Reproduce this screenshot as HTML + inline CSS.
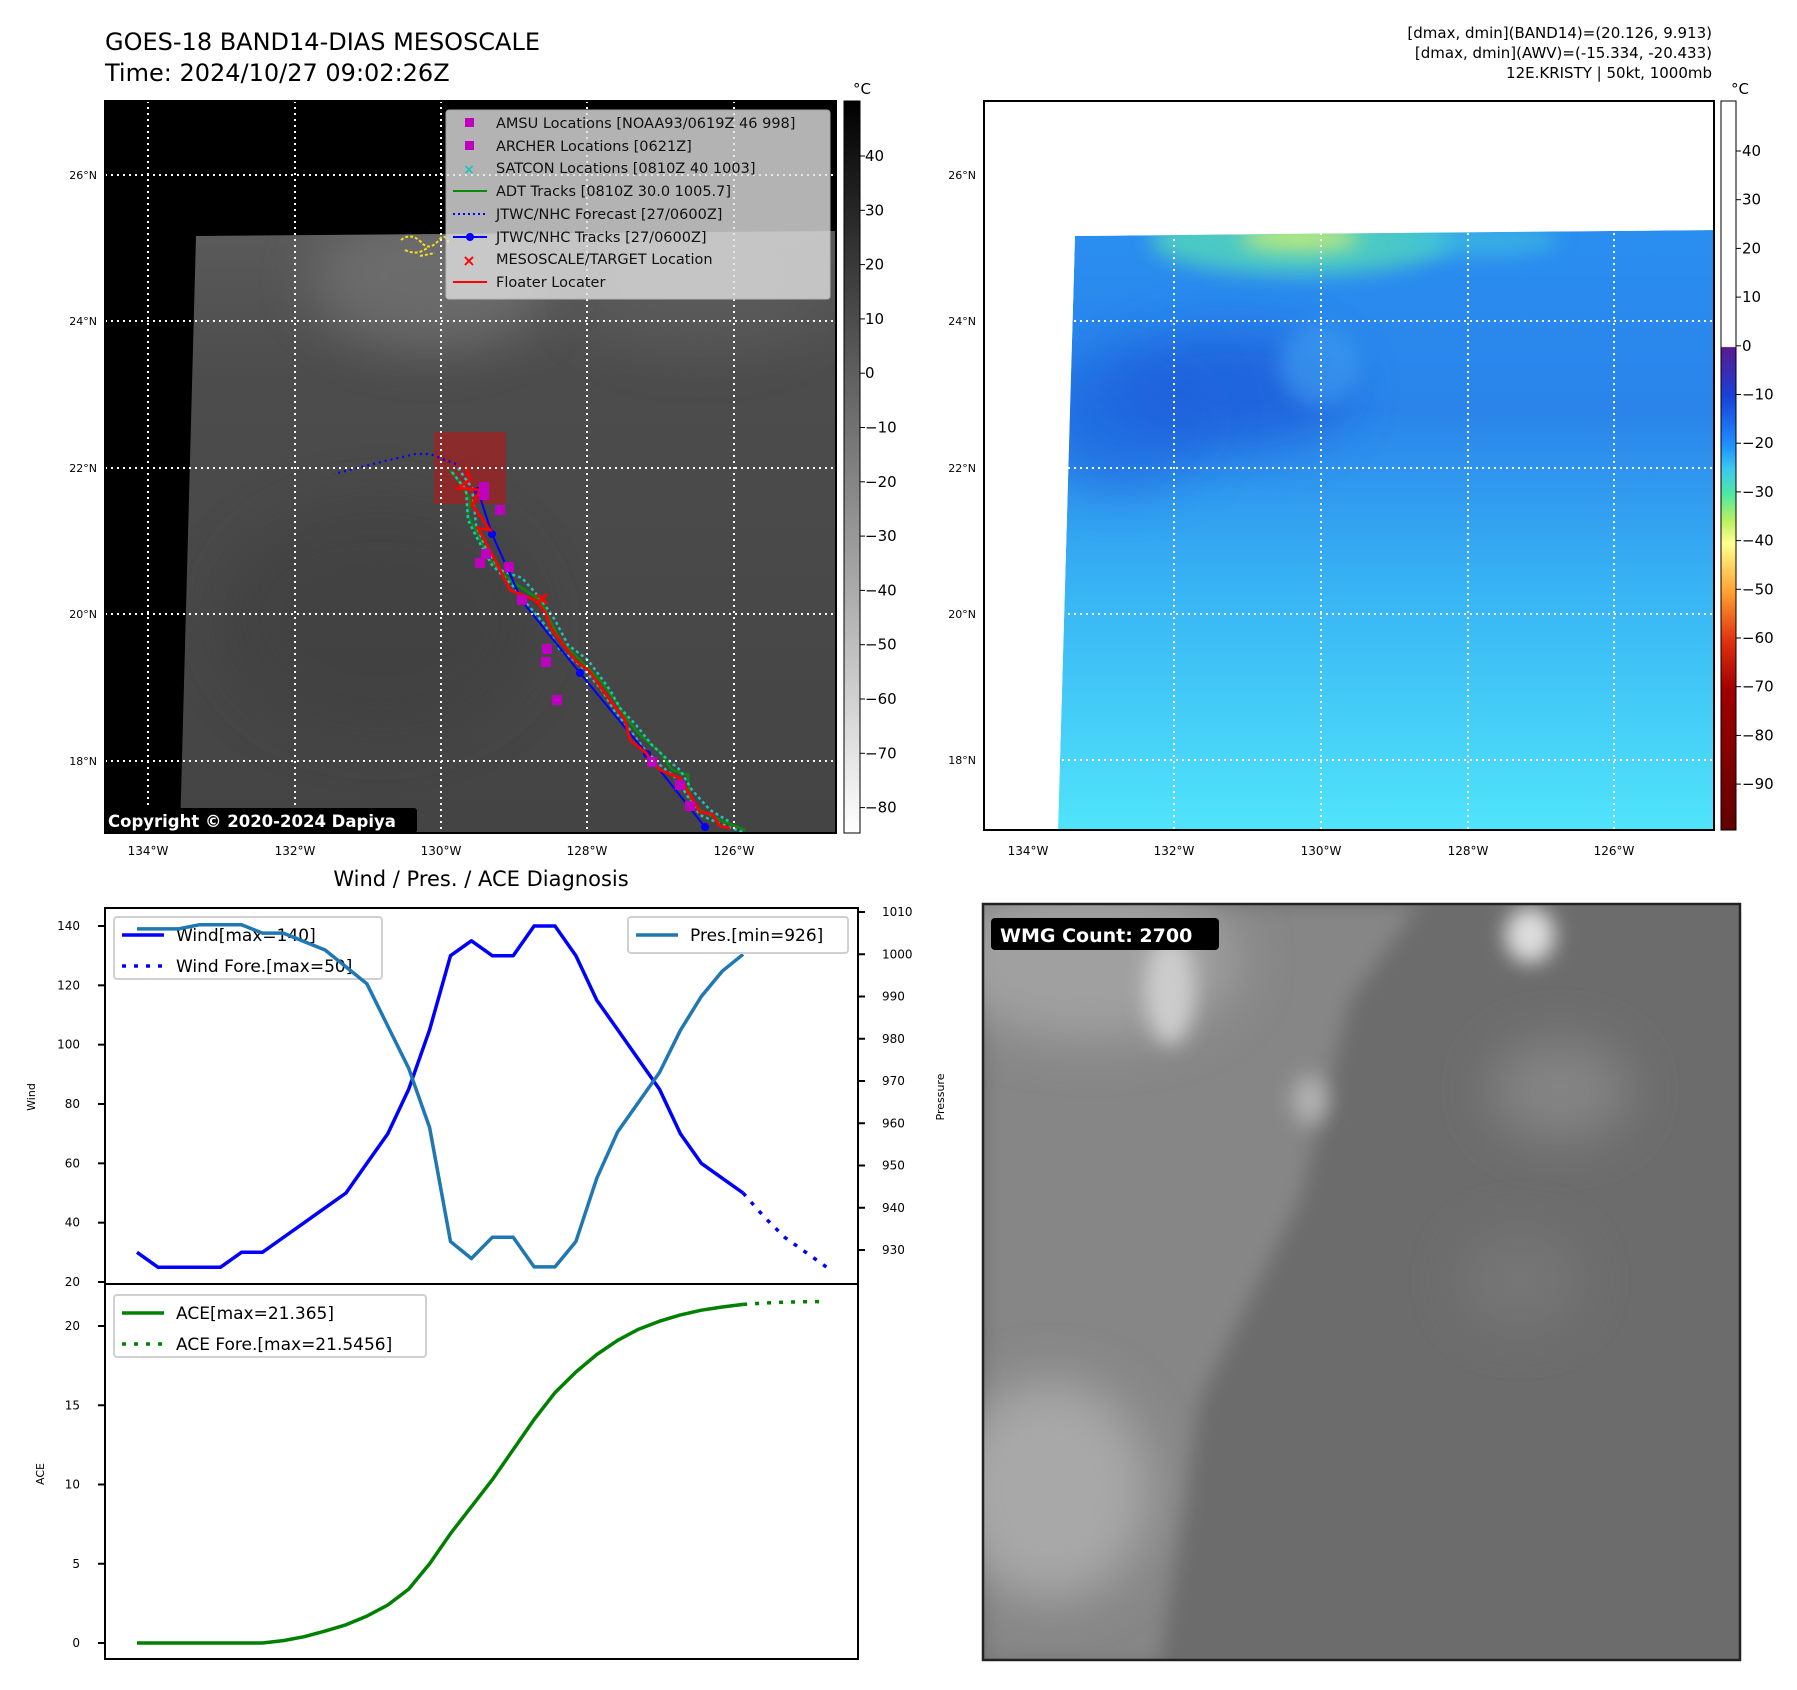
<!DOCTYPE html>
<html><head><meta charset="utf-8"><style>
html,body{margin:0;padding:0;background:#fff}
svg{display:block;font-family:"DejaVu Sans","Liberation Sans",sans-serif}
</style></head><body>
<svg id="fig" width="1797" height="1690" viewBox="0 0 1797 1690" xmlns="http://www.w3.org/2000/svg">
<defs>
<linearGradient id="gcb" x1="0" y1="0" x2="0" y2="1"><stop offset="0" stop-color="#000"/><stop offset="1" stop-color="#fff"/></linearGradient>
<linearGradient id="rcb" x1="0" y1="0" x2="0" y2="1">
<stop offset="0" stop-color="#fff"/><stop offset="0.337" stop-color="#fff"/>
<stop offset="0.338" stop-color="#5a1a90"/><stop offset="0.405" stop-color="#1840d8"/>
<stop offset="0.472" stop-color="#1e90ff"/><stop offset="0.505" stop-color="#3cc8f0"/>
<stop offset="0.54" stop-color="#50e8a0"/><stop offset="0.575" stop-color="#b8f060"/>
<stop offset="0.607" stop-color="#ffff90"/><stop offset="0.674" stop-color="#ffa030"/>
<stop offset="0.741" stop-color="#e03010"/><stop offset="0.808" stop-color="#a00000"/>
<stop offset="1" stop-color="#600000"/></linearGradient>
<linearGradient id="lmap" x1="0" y1="0" x2="0" y2="1"><stop offset="0" stop-color="#5a5a5a"/><stop offset="0.25" stop-color="#4c4c4c"/><stop offset="1" stop-color="#444"/></linearGradient>
<linearGradient id="rmap" x1="0" y1="0" x2="0" y2="1"><stop offset="0" stop-color="#2a8ef0"/><stop offset="0.3" stop-color="#2a84ea"/><stop offset="0.6" stop-color="#38b4f4"/><stop offset="1" stop-color="#50e4fa"/></linearGradient>
<filter id="bl" x="-100%" y="-100%" width="300%" height="300%"><feGaussianBlur stdDeviation="25"/></filter>
<filter id="bl2" x="-100%" y="-100%" width="300%" height="300%"><feGaussianBlur stdDeviation="10"/></filter>
<clipPath id="lclip"><rect x="105" y="101" width="731" height="732"/></clipPath>
<clipPath id="rclip"><polygon points="1075,236 1714,230 1714,830 1058,830"/></clipPath>
<clipPath id="lgray"><polygon points="196,236 836,231 836,833 180,833"/></clipPath>
<clipPath id="wclip"><rect x="983" y="904" width="757" height="756"/></clipPath>
</defs>

<text x="105" y="50" font-size="24">GOES-18 BAND14-DIAS MESOSCALE</text>
<text x="105" y="81" font-size="24">Time: 2024/10/27 09:02:26Z</text>
<g font-size="15" text-anchor="end">
<text x="1712" y="38">[dmax, dmin](BAND14)=(20.126, 9.913)</text>
<text x="1712" y="58">[dmax, dmin](AWV)=(-15.334, -20.433)</text>
<text x="1712" y="78">12E.KRISTY | 50kt, 1000mb</text>
</g>

<!-- LEFT MAP -->
<g clip-path="url(#lclip)">
<rect x="105" y="101" width="731" height="732" fill="#000"/>
<polygon points="196,236 836,231 836,833 180,833" fill="url(#lmap)"/>
<g clip-path="url(#lgray)">
<ellipse cx="430" cy="280" rx="120" ry="70" fill="#7a7a7a" opacity="0.6" filter="url(#bl)"/>
<ellipse cx="700" cy="300" rx="120" ry="50" fill="#606060" opacity="0.5" filter="url(#bl)"/>
<ellipse cx="380" cy="620" rx="160" ry="120" fill="#3c3c3c" opacity="0.5" filter="url(#bl)"/>
</g>
<path d="M401,240 q10,-8 20,2 q8,10 18,-2 q6,-8 10,4 M405,250 q12,6 22,-2 M420,256 l15,-3" stroke="#f0e020" stroke-width="2" fill="none" stroke-dasharray="3,2"/>
<rect x="434" y="432" width="72" height="72" fill="#a02020" opacity="0.75"/>
<polyline points="456,464 430,454 415,454 381,462 334,474" fill="none" stroke="#0000ff" stroke-width="2.2" stroke-dasharray="2,4"/>
<polyline points="450,470 462,485 470,500 468,515 478,535 490,560 510,580 540,600 550,620 560,640 580,660 600,680 615,700 628,720 640,735 660,752 672,770 688,775 690,800 700,810 720,820 745,830" fill="none" stroke="#0a8a0a" stroke-width="2.5"/>
<g stroke="#20c0c0" stroke-width="2.5" stroke-dasharray="3,3" fill="none">
<polyline points="452,472 466,490 468,520 478,540 492,565 512,585 528,605 545,625 560,650 580,665 602,690 615,712 630,730 645,750 660,765 676,778 690,800 700,815 716,822 745,833"/>
<polyline points="458,468 472,488 476,525 486,548 500,570 522,578 540,598 555,620 568,645 588,660 610,690 620,708 636,725 652,745 668,760 680,770 692,790 710,810 730,822"/>
</g>
<polyline points="478,491 492,534 522,601 580,673 647,754 705,827" fill="none" stroke="#0000ff" stroke-width="2"/>
<g fill="#0000ff"><circle cx="478" cy="491" r="4"/><circle cx="492" cy="534" r="4"/><circle cx="522" cy="601" r="4"/><circle cx="580" cy="673" r="4"/><circle cx="647" cy="754" r="4"/><circle cx="705" cy="827" r="4"/></g>
<polyline points="466,466 470,480 458,488 480,490 472,505 490,530 478,528 495,560 510,590 535,600 545,612 552,630 575,660 590,672 610,700 625,720 630,740 645,752 660,770 680,778 700,812 712,814 720,826 730,828" fill="none" stroke="#ff0000" stroke-width="2.8"/>
<g fill="#c000c0">
<rect x="479" y="482" width="10" height="10"/><rect x="479" y="490" width="10" height="10"/><rect x="495" y="505" width="10" height="10"/><rect x="475" y="558" width="10" height="10"/><rect x="481" y="549" width="10" height="10"/><rect x="504" y="562" width="10" height="10"/><rect x="542" y="644" width="10" height="10"/><rect x="541" y="657" width="10" height="10"/><rect x="552" y="695" width="10" height="10"/><rect x="647" y="757" width="10" height="10"/><rect x="675" y="780" width="10" height="10"/><rect x="685" y="801" width="10" height="10"/><rect x="517" y="595" width="10" height="10"/>
</g>
<g stroke="#ff0000" stroke-width="3"><path d="M537,594 l10,10 M547,594 l-10,10"/></g>
<g stroke="#fff" stroke-width="2" stroke-dasharray="2,4">
<line x1="148" y1="101" x2="148" y2="833"/><line x1="295" y1="101" x2="295" y2="833"/><line x1="441" y1="101" x2="441" y2="833"/><line x1="587" y1="101" x2="587" y2="833"/><line x1="734" y1="101" x2="734" y2="833"/>
<line x1="105" y1="175" x2="836" y2="175"/><line x1="105" y1="321" x2="836" y2="321"/><line x1="105" y1="468" x2="836" y2="468"/><line x1="105" y1="614" x2="836" y2="614"/><line x1="105" y1="761" x2="836" y2="761"/>
</g>
<g>
<rect x="446" y="110" width="384" height="189" rx="3" fill="#e0e0e0" opacity="0.8" stroke="#ccc"/>
<g font-size="14.5" fill="#111">
<text x="496" y="128">AMSU Locations [NOAA93/0619Z 46 998]</text>
<text x="496" y="151">ARCHER Locations [0621Z]</text>
<text x="496" y="173">SATCON Locations [0810Z 40 1003]</text>
<text x="496" y="196">ADT Tracks [0810Z 30.0 1005.7]</text>
<text x="496" y="219">JTWC/NHC Forecast [27/0600Z]</text>
<text x="496" y="242">JTWC/NHC Tracks [27/0600Z]</text>
<text x="496" y="264">MESOSCALE/TARGET Location</text>
<text x="496" y="287">Floater Locater</text>
</g>
<rect x="465" y="118" width="9" height="9" fill="#c000c0"/><rect x="465" y="141" width="9" height="9" fill="#c000c0"/>
<text x="469" y="174" font-size="14" fill="#20c0c0" text-anchor="middle" font-weight="bold">×</text>
<line x1="453" y1="191" x2="487" y2="191" stroke="#0a8a0a" stroke-width="2"/>
<line x1="453" y1="214" x2="487" y2="214" stroke="#0000ff" stroke-width="2" stroke-dasharray="2,3"/>
<line x1="453" y1="237" x2="487" y2="237" stroke="#0000ff" stroke-width="2"/><circle cx="470" cy="237" r="4" fill="#0000ff"/>
<text x="469" y="266" font-size="16" fill="#ff0000" text-anchor="middle" font-weight="bold">×</text>
<line x1="453" y1="282" x2="487" y2="282" stroke="#ff0000" stroke-width="2"/>
</g>
<rect x="104" y="808" width="313" height="25" rx="3" fill="#000"/>
<text x="108" y="827" font-size="16.5" font-weight="bold" fill="#fff">Copyright © 2020-2024 Dapiya</text>
</g>
<rect x="105" y="101" width="731" height="732" fill="none" stroke="#000" stroke-width="2"/>
<g font-size="11" text-anchor="end">
<text x="97" y="179">26°N</text><text x="97" y="325">24°N</text><text x="97" y="472">22°N</text><text x="97" y="618">20°N</text><text x="97" y="765">18°N</text>
</g>
<g font-size="12" text-anchor="middle">
<text x="148" y="855">134°W</text><text x="295" y="855">132°W</text><text x="441" y="855">130°W</text><text x="587" y="855">128°W</text><text x="734" y="855">126°W</text>
</g>
<g>
<rect x="844" y="101" width="16" height="732" fill="url(#gcb)" stroke="#000" stroke-width="1"/>
<text x="862" y="94" font-size="15" text-anchor="middle">°C</text>
<g font-size="15" id="lcbt"></g>
</g>

<!-- RIGHT MAP -->
<rect x="984" y="101" width="730" height="729" fill="#fff"/>
<g clip-path="url(#rclip)">
<polygon points="1075,236 1714,230 1714,830 1058,830" fill="url(#rmap)"/>
<ellipse cx="1230" cy="390" rx="120" ry="60" fill="#1a58d8" opacity="0.7" filter="url(#bl)"/>
<ellipse cx="1120" cy="420" rx="90" ry="70" fill="#1c60dc" opacity="0.6" filter="url(#bl)"/>
<ellipse cx="1320" cy="365" rx="40" ry="40" fill="#40a0f0" opacity="0.6" filter="url(#bl2)"/>
<ellipse cx="1300" cy="240" rx="150" ry="35" fill="#50d0c0" opacity="0.9" filter="url(#bl2)"/>
<ellipse cx="1480" cy="240" rx="80" ry="15" fill="#40c0e0" opacity="0.7" filter="url(#bl2)"/>
<ellipse cx="1300" cy="238" rx="60" ry="12" fill="#d0f070" opacity="0.9" filter="url(#bl2)"/>
</g>
<g stroke="#fff" stroke-width="2" stroke-dasharray="2,4">
<line x1="1028" y1="101" x2="1028" y2="830"/><line x1="1174" y1="101" x2="1174" y2="830"/><line x1="1321" y1="101" x2="1321" y2="830"/><line x1="1468" y1="101" x2="1468" y2="830"/><line x1="1614" y1="101" x2="1614" y2="830"/>
<line x1="984" y1="175" x2="1714" y2="175"/><line x1="984" y1="321" x2="1714" y2="321"/><line x1="984" y1="468" x2="1714" y2="468"/><line x1="984" y1="614" x2="1714" y2="614"/><line x1="984" y1="760" x2="1714" y2="760"/>
</g>
<rect x="984" y="101" width="730" height="729" fill="none" stroke="#000" stroke-width="2"/>
<g font-size="11" text-anchor="end">
<text x="976" y="179">26°N</text><text x="976" y="325">24°N</text><text x="976" y="472">22°N</text><text x="976" y="618">20°N</text><text x="976" y="764">18°N</text>
</g>
<g font-size="12" text-anchor="middle">
<text x="1028" y="855">134°W</text><text x="1174" y="855">132°W</text><text x="1321" y="855">130°W</text><text x="1468" y="855">128°W</text><text x="1614" y="855">126°W</text>
</g>
<g>
<rect x="1721" y="101" width="15" height="729" fill="url(#rcb)" stroke="#000" stroke-width="1"/>
<text x="1740" y="94" font-size="15" text-anchor="middle">°C</text>
<g font-size="15" id="rcbt"></g>
</g>

<!-- WMG panel -->
<g clip-path="url(#wclip)">
<rect x="983" y="904" width="757" height="756" fill="#6c6c6c"/>
<polygon points="983,904 1420,904 1350,1000 1300,1200 1200,1400 1160,1664 983,1664" fill="#868686" filter="url(#bl2)"/>
<ellipse cx="1090" cy="960" rx="150" ry="80" fill="#a0a0a0" filter="url(#bl)"/>
<ellipse cx="1170" cy="990" rx="25" ry="55" fill="#cccccc" filter="url(#bl2)"/>
<ellipse cx="1530" cy="935" rx="25" ry="28" fill="#dddddd" filter="url(#bl2)"/>
<ellipse cx="1310" cy="1100" rx="18" ry="25" fill="#b0b0b0" filter="url(#bl2)"/>
<ellipse cx="1050" cy="1490" rx="100" ry="110" fill="#a8a8a8" filter="url(#bl)"/>
<ellipse cx="1560" cy="1090" rx="70" ry="50" fill="#848484" filter="url(#bl)"/>
<ellipse cx="1520" cy="1280" rx="60" ry="50" fill="#767676" filter="url(#bl)"/>
<rect x="991" y="918" width="228" height="32" rx="4" fill="#000"/>
<text x="1000" y="942" font-size="19" font-weight="bold" fill="#fff">WMG Count: 2700</text>
</g>
<rect x="983" y="904" width="757" height="756" fill="none" stroke="#222" stroke-width="2.5"/>

<!-- Bottom left chart -->
<text x="481" y="886" font-size="21" text-anchor="middle">Wind / Pres. / ACE Diagnosis</text>
<g id="chart"></g>
<rect x="105" y="908" width="753" height="376" fill="none" stroke="#000" stroke-width="2"/>
<rect x="105" y="1284" width="753" height="375" fill="none" stroke="#000" stroke-width="2"/>
<text transform="translate(35,1097) rotate(-90)" font-size="11" text-anchor="middle">Wind</text>
<text transform="translate(944,1097) rotate(-90)" font-size="11" text-anchor="middle">Pressure</text>
<text transform="translate(44,1474) rotate(-90)" font-size="11" text-anchor="middle">ACE</text>
</svg>
<script>
const windObs=[30,25,25,25,25,30,30,35,40,45,50,60,70,85,105,130,135,130,130,140,140,130,115,105,95,85,70,60,55,50];
const windFore=[50,42,35,30,25];
const presObs=[1006,1006,1006,1007,1007,1007,1005,1005,1003,1001,997,993,983,973,959,932,928,933,933,926,926,932,947,958,965,972,982,990,996,1000];
const aceObs=[0,0,0,0,0,0,0,0.15,0.4,0.75,1.15,1.7,2.4,3.4,5.0,6.9,8.6,10.3,12.2,14.1,15.8,17.1,18.2,19.1,19.8,20.3,20.7,21.0,21.2,21.365];
const aceFore=[21.365,21.45,21.5,21.53,21.5456];
const windTicks=[20,40,60,80,100,120,140];
const presTicks=[930,940,950,960,970,980,990,1000,1010];
const aceTicks=[0,5,10,15,20];
const irTicks=[40,30,20,10,0,-10,-20,-30,-40,-50,-60,-70,-80];
const awvTicks=[40,30,20,10,0,-10,-20,-30,-40,-50,-60,-70,-80,-90];

const NS='http://www.w3.org/2000/svg';
function mk(tag,attrs,parent,txt){const e=document.createElementNS(NS,tag);for(const k in attrs)e.setAttribute(k,attrs[k]);if(txt!==undefined)e.textContent=txt;parent.appendChild(e);return e;}
const X=i=>137+i*20.9;
const YW=v=>1282-(v-20)*(356/120);
const YP=v=>1250-(v-930)*(338/80);
const YA=v=>1643-v*(317/20);
const ch=document.getElementById('chart');
windTicks.forEach(t=>{const y=YW(t);mk('line',{x1:98,y1:y,x2:105,y2:y,stroke:'#000','stroke-width':2},ch);
const tx=mk('text',{x:80,y:y+4,'font-size':12,'text-anchor':'end'},ch,t);

});
presTicks.forEach(t=>{const y=YP(t);mk('line',{x1:858,y1:y,x2:865,y2:y,stroke:'#000','stroke-width':2},ch);
const tx=mk('text',{x:882,y:y+4,'font-size':12},ch,t);

});
aceTicks.forEach(t=>{const y=YA(t);mk('line',{x1:98,y1:y,x2:105,y2:y,stroke:'#000','stroke-width':2},ch);
const tx=mk('text',{x:80,y:y+4,'font-size':12,'text-anchor':'end'},ch,t);

});
function pl(arr,off,fx,attrs,name){const pts=arr.map((v,i)=>X(i+off).toFixed(1)+','+fx(v).toFixed(1)).join(' ');
const p=mk('polyline',Object.assign({points:pts,fill:'none','stroke-linejoin':'round'},attrs),ch);

}
pl(windObs,0,YW,{stroke:'#0000ff','stroke-width':3.5},'wind-line');
pl(windFore,windObs.length-1,YW,{stroke:'#0000ff','stroke-width':3.5,'stroke-dasharray':'4,8'},'wind-forecast-line');
function legend(x,y,w,h,items,name){const g=mk('g',{},ch);


mk('rect',{x:x,y:y,width:w,height:h,rx:3,fill:'#fff','fill-opacity':0.8,stroke:'#d0d0d0','stroke-width':2},g);
items.forEach((it,k)=>{const yy=y+18+k*31;mk('line',{x1:x+8,y1:yy,x2:x+50,y2:yy,stroke:it[1],'stroke-width':3.5,'stroke-dasharray':it[2]?'4,8':'none'},g);
mk('text',{x:x+62,y:yy+6,'font-size':17},g,it[0]);});}
legend(114,917,268,62,[['Wind[max=140]','#0000ff',0],['Wind Fore.[max=50]','#0000ff',1]],'wind-legend');
pl(presObs,0,YP,{stroke:'#1f77b4','stroke-width':3.5},'pressure-line');
legend(628,917,220,36,[['Pres.[min=926]','#1f77b4',0]],'pressure-legend');
pl(aceObs,0,YA,{stroke:'#008000','stroke-width':3.5},'ace-line');
pl(aceFore,aceObs.length-1,YA,{stroke:'#008000','stroke-width':3.5,'stroke-dasharray':'4,8'},'ace-forecast-line');
legend(114,1295,312,62,[['ACE[max=21.365]','#008000',0],['ACE Fore.[max=21.5456]','#008000',1]],'ace-legend');
const lg=document.getElementById('lcbt');
irTicks.forEach(t=>{const y=156+(40-t)*5.43;mk('line',{x1:860,y1:y,x2:865,y2:y,stroke:'#000'},lg);
const tx=mk('text',{x:865,y:y+5},lg,(t<0?'\u2212'+(-t):t));

});
const rg=document.getElementById('rcbt');
awvTicks.forEach(t=>{const y=151+(40-t)*4.87;mk('line',{x1:1736,y1:y,x2:1741,y2:y,stroke:'#000'},rg);
const tx=mk('text',{x:1742,y:y+5},rg,(t<0?'\u2212'+(-t):t));

});
</script>
</body></html>
